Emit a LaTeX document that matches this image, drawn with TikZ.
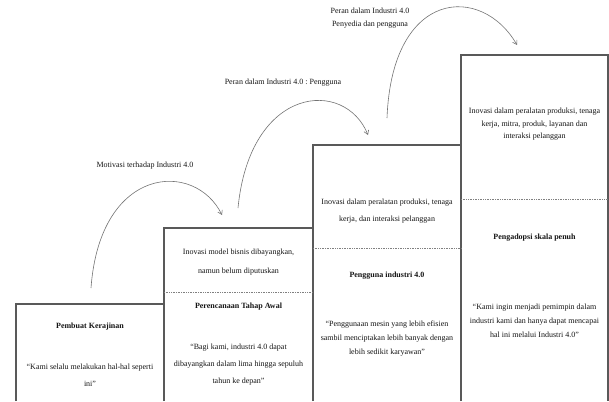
\documentclass[tikz,border=0pt]{standalone}
\usepackage{fontspec}
\setmainfont{Liberation Serif}
\usetikzlibrary{arrows.meta}
\frenchspacing
\begin{document}
\begin{tikzpicture}[x=1pt,y=-1pt,
  boxline/.style={draw=black!65,line width=1.1pt},
  sepline/.style={draw=black!50,densely dotted,line width=0.7pt},
  txt/.style={align=center,inner sep=0pt,text=black!92},
  arc/.style={draw=black!55,line width=0.6pt,-{Straight Barb[length=4pt,width=5pt]}},
]
\useasboundingbox (0,0) rectangle (609,401);
% boxes
\draw[boxline] (16,401) -- (16,304) -- (164,304) -- (164,401);
\draw[boxline] (164,401) -- (164,228) -- (313,228) -- (313,401);
\draw[boxline] (313,401) -- (313,145) -- (461,145) -- (461,401);
\draw[boxline] (461,401) -- (461,55) -- (608,55) -- (608,401);
\draw[sepline] (164,292) -- (313,292);
\draw[sepline] (313,248) -- (461,248);
\draw[sepline] (461,199) -- (608,199);
% box 1
\node[txt,font=\fontsize{8}{17}\selectfont\bfseries] (t1) at (90,327) {Pembuat Kerajinan};
\node[txt,font=\fontsize{8}{17}\selectfont] (q1) at (90,375.5) {“Kami selalu melakukan hal-hal seperti\\ini”};
% box 2
\node[txt,font=\fontsize{8}{19}\selectfont] (i2) at (238.5,262.5) {Inovasi model bisnis dibayangkan,\\namun belum diputuskan};
\node[txt,font=\fontsize{8}{17}\selectfont\bfseries] (t2) at (238.5,307) {Perencanaan Tahap Awal};
\node[txt,font=\fontsize{8}{17}\selectfont] (q2) at (238.5,365) {“Bagi kami, industri 4.0 dapat\\dibayangkan dalam lima hingga sepuluh\\tahun ke depan”};
% box 3
\node[txt,font=\fontsize{8}{17}\selectfont] (i3) at (387,211.5) {Inovasi dalam peralatan produksi, tenaga\\kerja, dan interaksi pelanggan};
\node[txt,font=\fontsize{8}{17}\selectfont\bfseries] (t3) at (387,276) {Pengguna industri 4.0};
\node[txt,font=\fontsize{8}{14}\selectfont] (q3) at (387,339) {“Penggunaan mesin yang lebih efisien\\sambil menciptakan lebih banyak dengan\\lebih sedikit karyawan”};
% box 4
\node[txt,font=\fontsize{8}{12.5}\selectfont] (i4) at (534.5,124.5) {Inovasi dalam peralatan produksi, tenaga\\kerja, mitra, produk, layanan dan\\interaksi pelanggan};
\node[txt,font=\fontsize{8}{17}\selectfont\bfseries] (t4) at (534.5,238) {Pengadopsi skala penuh};
\node[txt,font=\fontsize{8}{14}\selectfont] (q4) at (534.5,321) {“Kami ingin menjadi pemimpin dalam\\industri kami dan hanya dapat mencapai\\hal ini melalui Industri 4.0”};
% arcs
\coordinate (a1s) at (91,288); \coordinate (a1e) at (222,215);
\coordinate (a2s) at (238,208); \coordinate (a2e) at (368,135);
\coordinate (a3s) at (387,118); \coordinate (a3e) at (517,45);
\draw[arc] (a1s) .. controls (100,165) and (195,160) .. (a1e);
\draw[arc] (a2s) .. controls (250,85) and (345,78) .. (a2e);
\draw[arc] (a3s) .. controls (392,-12) and (482,-16) .. (a3e);
\node[txt,font=\fontsize{8}{13}\selectfont] (l1) at (145,166) {Motivasi terhadap Industri 4.0};
\node[txt,font=\fontsize{8}{13}\selectfont] (l2) at (283,83) {Peran dalam Industri 4.0 : Pengguna};
\node[txt,font=\fontsize{8}{13}\selectfont] (l3) at (370,18.5) {Peran dalam Industri 4.0\\Penyedia dan pengguna};
\end{tikzpicture}
\end{document}
